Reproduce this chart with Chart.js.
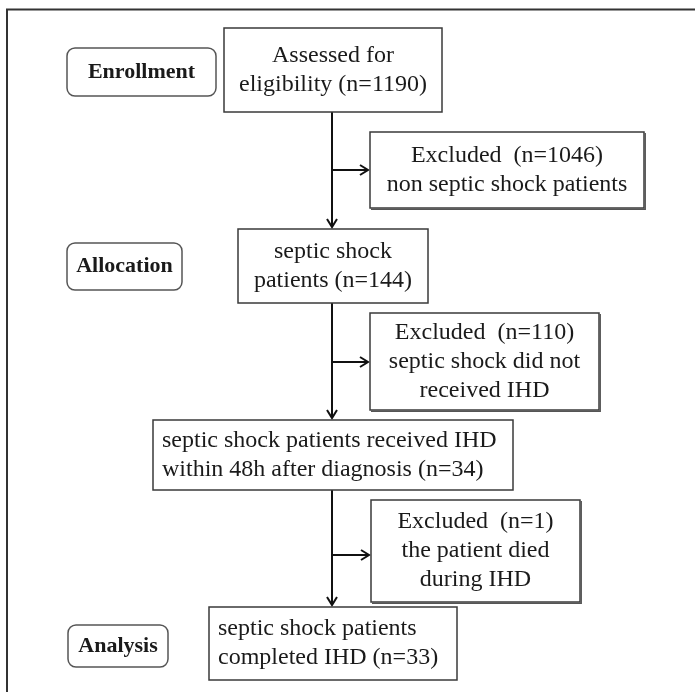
<!DOCTYPE html>
<html>
<head>
<meta charset="utf-8">
<script src="https://cdn.jsdelivr.net/npm/chart.js@4/dist/chart.umd.min.js"></script>
<style>
  html, body { margin: 0; padding: 0; background: #ffffff; }
  canvas { display: block; }
</style>
</head>
<body>
<canvas id="c" width="695" height="692"></canvas>
<script>
// ---------- data ----------
const stageLabels = ["Enrollment", "Allocation", "Analysis"];
const mainTexts = [
  ["Assessed for", "eligibility (n={n})"],
  ["septic shock", "patients (n={n})"],
  ["septic shock patients received IHD", "within 48h after diagnosis (n={n})"],
  ["septic shock patients", "completed IHD (n={n})"]
];
const mainCounts = [1190, 144, 34, 33];
const excludedTexts = [
  ["Excluded  (n={n})", "non septic shock patients"],
  ["Excluded  (n={n})", "septic shock did not", "received IHD"],
  ["Excluded  (n={n})", "the patient died", "during IHD"]
];
const excludedCounts = [1046, 110, 1];

// ---------- layout (in scale units) ----------
const layout = {
  main: [[224, 442, 28, 112], [238, 428, 229, 303], [153, 513, 420, 490], [209, 457, 607, 680]],
  mainAlign: ["center", "center", "left", "left"],
  excl: [[370, 644, 132, 208], [370, 599, 313, 410], [371, 580, 500, 602]],
  stage: [[67, 216, 48, 96], [67, 182, 243, 290], [68, 168, 625, 667]],
  arrowY: [170, 362, 555],
  spineX: 332,
  frame: { x: 7, y: 9.5 },
  lineH: 29
};

const fill = (t, n) => t.replace("{n}", n);

const flowPlugin = {
  id: "flow",
  afterDraw(chart) {
    const ctx = chart.ctx;
    const X = v => chart.scales.x.getPixelForValue(v);
    const Y = v => chart.scales.y.getPixelForValue(v);
    ctx.save();

    // frame
    ctx.strokeStyle = "#333";
    ctx.lineWidth = 2;
    ctx.beginPath();
    ctx.moveTo(X(layout.frame.x), Y(692));
    ctx.lineTo(X(layout.frame.x), Y(layout.frame.y));
    ctx.lineTo(X(695), Y(layout.frame.y));
    ctx.stroke();

    function textLines(lines, b, align, font, pad) {
      ctx.font = font;
      ctx.fillStyle = "#1a1a1a";
      ctx.textBaseline = "middle";
      const cy = (Y(b[2]) + Y(b[3])) / 2;
      const n = lines.length;
      lines.forEach((ln, i) => {
        const y = cy + (i - (n - 1) / 2) * layout.lineH;
        if (align === "left") {
          ctx.textAlign = "left";
          ctx.fillText(ln, X(b[0]) + pad, y);
        } else {
          ctx.textAlign = "center";
          ctx.fillText(ln, (X(b[0]) + X(b[1])) / 2, y);
        }
      });
    }

    function rectBox(b, shadow) {
      const x0 = X(b[0]), x1 = X(b[1]), y0 = Y(b[2]), y1 = Y(b[3]);
      ctx.fillStyle = "#fff";
      ctx.fillRect(x0, y0, x1 - x0, y1 - y0);
      ctx.strokeStyle = "#3a3a3a";
      ctx.lineWidth = 1.5;
      ctx.strokeRect(x0, y0, x1 - x0, y1 - y0);
      if (shadow) {
        ctx.strokeStyle = "#555";
        ctx.lineWidth = 1.5;
        ctx.beginPath();
        ctx.moveTo(x1 + 1.2, y0 + 1);
        ctx.lineTo(x1 + 1.2, y1 + 1.2);
        ctx.lineTo(x0 + 1, y1 + 1.2);
        ctx.stroke();
      }
    }

    function arrowHead(x, y, dir) {
      ctx.beginPath();
      if (dir === "down") {
        ctx.moveTo(x - 5, y - 8);
        ctx.lineTo(x, y);
        ctx.lineTo(x + 5, y - 8);
      } else {
        ctx.moveTo(x - 8, y - 5);
        ctx.lineTo(x, y);
        ctx.lineTo(x - 8, y + 5);
      }
      ctx.stroke();
    }

    // spine and arrows
    ctx.strokeStyle = "#111";
    ctx.lineWidth = 2;
    const sx = X(layout.spineX);
    for (let i = 0; i < layout.main.length - 1; i++) {
      const yTop = Y(layout.main[i][3]);
      const yBot = Y(layout.main[i + 1][2]) - 2;
      ctx.beginPath();
      ctx.moveTo(sx, yTop);
      ctx.lineTo(sx, yBot);
      ctx.stroke();
      arrowHead(sx, yBot, "down");
      const ay = Y(layout.arrowY[i]);
      const ax = X(layout.excl[i][0]) - 2;
      ctx.beginPath();
      ctx.moveTo(sx, ay);
      ctx.lineTo(ax, ay);
      ctx.stroke();
      arrowHead(ax, ay, "right");
    }

    // main boxes
    layout.main.forEach((b, i) => {
      rectBox(b, false);
      const lines = mainTexts[i].map(t => fill(t, mainCounts[i]));
      textLines(lines, b, layout.mainAlign[i], '24px "Liberation Serif", "Times New Roman", serif', 9);
    });

    // excluded boxes
    layout.excl.forEach((b, i) => {
      rectBox(b, true);
      const lines = excludedTexts[i].map(t => fill(t, excludedCounts[i]));
      textLines(lines, b, "center", '24px "Liberation Serif", "Times New Roman", serif', 0);
    });

    // stage boxes
    layout.stage.forEach((b, i) => {
      const x0 = X(b[0]), x1 = X(b[1]), y0 = Y(b[2]), y1 = Y(b[3]);
      ctx.fillStyle = "#fff";
      ctx.strokeStyle = "#555";
      ctx.lineWidth = 1.5;
      ctx.beginPath();
      ctx.roundRect(x0, y0, x1 - x0, y1 - y0, 8);
      ctx.fill();
      ctx.stroke();
      textLines([stageLabels[i]], b, "center", 'bold 22px "Liberation Serif", "Times New Roman", serif', 0);
    });

    ctx.restore();
  }
};

const centers = layout.main.map((b, i) => ({ x: (b[0] + b[1]) / 2, y: (b[2] + b[3]) / 2, n: mainCounts[i] }))
  .concat(layout.excl.map((b, i) => ({ x: (b[0] + b[1]) / 2, y: (b[2] + b[3]) / 2, n: excludedCounts[i] })));

new Chart(document.getElementById("c"), {
  type: "scatter",
  data: {
    datasets: [{
      data: centers,
      pointRadius: 0,
      pointHoverRadius: 0,
      showLine: false
    }]
  },
  options: {
    responsive: false,
    animation: false,
    layout: { padding: 0 },
    plugins: { legend: { display: false }, tooltip: { enabled: false } },
    events: [],
    scales: {
      x: { type: "linear", min: 0, max: 695, display: false },
      y: { type: "linear", min: 0, max: 692, reverse: true, display: false }
    }
  },
  plugins: [flowPlugin]
});
</script>
</body>
</html>
